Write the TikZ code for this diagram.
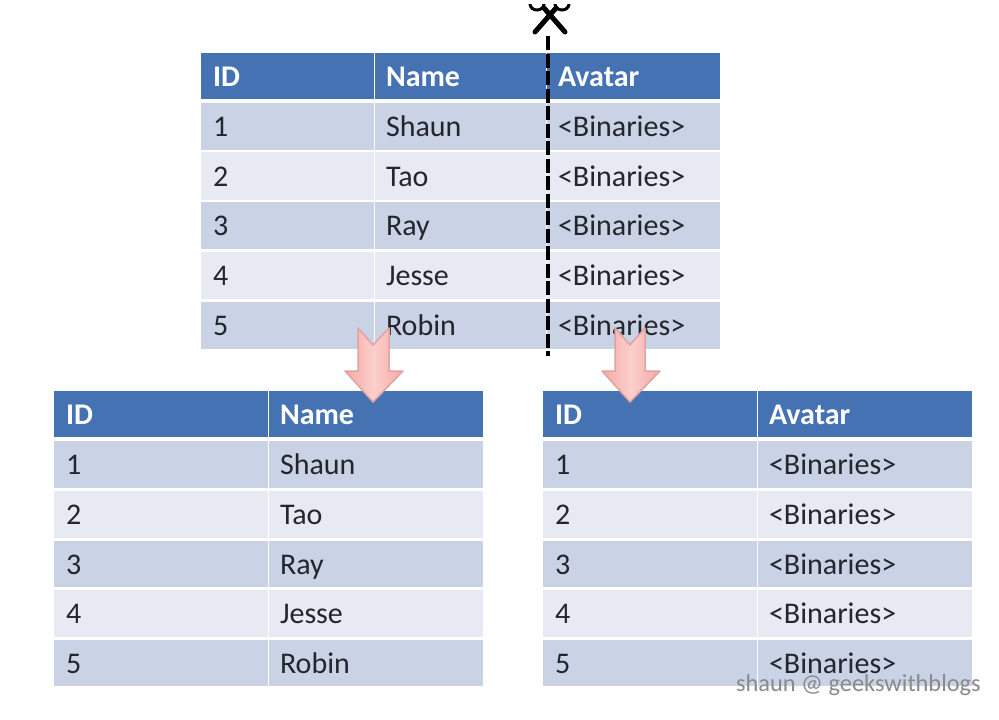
\documentclass[tikz,border=0pt]{standalone}
\usepackage{fontspec}
\setmainfont{Carlito}
\definecolor{headblue}{HTML}{4572B3}
\definecolor{rowdark}{HTML}{CAD2E5}
\definecolor{rowlight}{HTML}{E7EAF3}
\definecolor{arrowedge}{HTML}{DFA3A0}
\definecolor{arrowmid}{HTML}{FBCFCB}
\definecolor{arrowside}{HTML}{F6A9A5}
\definecolor{inktext}{HTML}{23262C}
\definecolor{markgrey}{HTML}{8A8A8A}
\newcommand{\cellbox}[8]{% name x0 y0 x1 y1 fill style text
  \pgfmathsetmacro{\cw}{#4-#2}\pgfmathsetmacro{\ch}{#5-#3}
  \pgfmathsetmacro{\tw}{#4-#2-24}
  \node[cellnode,#7,fill=#6,minimum width=\cw pt,minimum height=\ch pt,text width=\tw pt] (#1) at ({(#2+#4)/2},{(#3+#5)/2}) {#8};}
\tikzset{
  cellnode/.style={rectangle,inner xsep=12pt,inner ysep=0pt,align=left,text height=22pt,text depth=2pt,font=\fontsize{30}{30}\selectfont,text=inktext},
  headcell/.style={text=white,text height=23pt,text depth=2pt,font=\fontsize{30}{30}\selectfont\bfseries},
  bodycell/.style={},
  sep/.style={white,line width=1.3pt},
  blockarrow/.style={draw=arrowedge,line width=1.5pt,line join=round,left color=arrowside,right color=arrowside,middle color=arrowmid},
  cutline/.style={black,line width=4pt,dash pattern=on 14pt off 3.5pt},
  scissor/.style={black,line width=5pt,line cap=round},
  wmark/.style={text=markgrey,font=\fontsize{24.4}{25}\selectfont,inner sep=0pt}
}
\begin{document}
\begin{tikzpicture}[x=1pt,y=-1pt]
\useasboundingbox (0,0) rectangle (999,720);
\fill[white] (0,0) rectangle (999,720);
\begin{scope}
\clip (0,0) rectangle (999,720);
% top table
\cellbox{ta0}{201}{53}{374}{99}{headblue}{headcell}{ID}
\cellbox{tb0}{374}{53}{546}{99}{headblue}{headcell}{Name}
\cellbox{tc0}{546}{53}{720}{99}{headblue}{headcell}{Avatar}
\cellbox{ta1}{201}{103}{374}{150}{rowdark}{bodycell}{1}
\cellbox{tb1}{374}{103}{546}{150}{rowdark}{bodycell}{Shaun}
\cellbox{tc1}{546}{103}{720}{150}{rowdark}{bodycell}{<Binaries>}
\cellbox{ta2}{201}{152}{374}{200}{rowlight}{bodycell}{2}
\cellbox{tb2}{374}{152}{546}{200}{rowlight}{bodycell}{Tao}
\cellbox{tc2}{546}{152}{720}{200}{rowlight}{bodycell}{<Binaries>}
\cellbox{ta3}{201}{202}{374}{249}{rowdark}{bodycell}{3}
\cellbox{tb3}{374}{202}{546}{249}{rowdark}{bodycell}{Ray}
\cellbox{tc3}{546}{202}{720}{249}{rowdark}{bodycell}{<Binaries>}
\cellbox{ta4}{201}{252}{374}{299}{rowlight}{bodycell}{4}
\cellbox{tb4}{374}{252}{546}{299}{rowlight}{bodycell}{Jesse}
\cellbox{tc4}{546}{252}{720}{299}{rowlight}{bodycell}{<Binaries>}
\cellbox{ta5}{201}{302}{374}{349}{rowdark}{bodycell}{5}
\cellbox{tb5}{374}{302}{546}{349}{rowdark}{bodycell}{Robin}
\cellbox{tc5}{546}{302}{720}{349}{rowdark}{bodycell}{<Binaries>}
\draw[sep] (ta0.north east) -- (ta5.south east);
\draw[sep] (tb0.north east) -- (tb5.south east);
% left table
\cellbox{la0}{54}{391}{268}{437}{headblue}{headcell}{ID}
\cellbox{lb0}{268}{391}{483}{437}{headblue}{headcell}{Name}
\cellbox{la1}{54}{441}{268}{488}{rowdark}{bodycell}{1}
\cellbox{lb1}{268}{441}{483}{488}{rowdark}{bodycell}{Shaun}
\cellbox{la2}{54}{491}{268}{538}{rowlight}{bodycell}{2}
\cellbox{lb2}{268}{491}{483}{538}{rowlight}{bodycell}{Tao}
\cellbox{la3}{54}{541}{268}{587}{rowdark}{bodycell}{3}
\cellbox{lb3}{268}{541}{483}{587}{rowdark}{bodycell}{Ray}
\cellbox{la4}{54}{590}{268}{637}{rowlight}{bodycell}{4}
\cellbox{lb4}{268}{590}{483}{637}{rowlight}{bodycell}{Jesse}
\cellbox{la5}{54}{640}{268}{686}{rowdark}{bodycell}{5}
\cellbox{lb5}{268}{640}{483}{686}{rowdark}{bodycell}{Robin}
\draw[sep] (la0.north east) -- (la5.south east);
% right table
\cellbox{ra0}{543}{391}{757}{437}{headblue}{headcell}{ID}
\cellbox{rb0}{757}{391}{972}{437}{headblue}{headcell}{Avatar}
\cellbox{ra1}{543}{441}{757}{488}{rowdark}{bodycell}{1}
\cellbox{rb1}{757}{441}{972}{488}{rowdark}{bodycell}{<Binaries>}
\cellbox{ra2}{543}{491}{757}{538}{rowlight}{bodycell}{2}
\cellbox{rb2}{757}{491}{972}{538}{rowlight}{bodycell}{<Binaries>}
\cellbox{ra3}{543}{541}{757}{587}{rowdark}{bodycell}{3}
\cellbox{rb3}{757}{541}{972}{587}{rowdark}{bodycell}{<Binaries>}
\cellbox{ra4}{543}{590}{757}{637}{rowlight}{bodycell}{4}
\cellbox{rb4}{757}{590}{972}{637}{rowlight}{bodycell}{<Binaries>}
\cellbox{ra5}{543}{640}{757}{686}{rowdark}{bodycell}{5}
\cellbox{rb5}{757}{640}{972}{686}{rowdark}{bodycell}{<Binaries>}
\draw[sep] (ra0.north east) -- (ra5.south east);
% cut line
\coordinate (cuttop) at (548,36);
\coordinate (cutend) at (548,356);
\draw[cutline] (cuttop) -- (cutend);
% scissors
\begin{scope}
\clip (520,4) rectangle (580,40);
\draw[scissor] (535,32) -- (556,8);
\draw[scissor] (565,32) -- (544,8);
\draw[black,line width=3pt] (537,4) ellipse (7pt and 6pt);
\draw[black,line width=3pt] (562,4) ellipse (7pt and 6pt);
\end{scope}
% block arrows
\draw[blockarrow] (358,328) -- (373,345) -- (389,328) -- (389,371) -- (403,371) -- (373,402) -- (345,371) -- (358,371) -- cycle;
\draw[blockarrow] (615,328) -- (630,345) -- (645,328) -- (645,371) -- (660,371) -- (630,402) -- (602,371) -- (615,371) -- cycle;
% watermark
\node[wmark,anchor=base east] (wm) at (981,691) {shaun @ geekswithblogs};
\end{scope}
\end{tikzpicture}
\end{document}
